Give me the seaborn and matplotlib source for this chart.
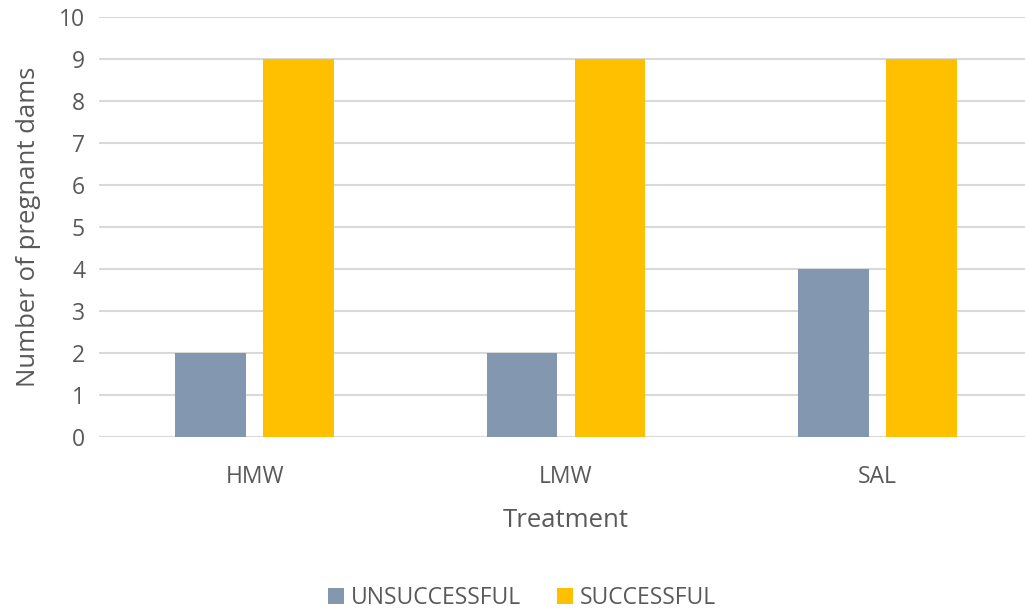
import matplotlib
matplotlib.use("Agg")
import matplotlib.pyplot as plt
import seaborn as sns
import pandas as pd

treatments = ["HMW", "LMW", "SAL"]
unsuccessful = [2, 2, 4]
successful = [9, 9, 9]
outcomes = ["UNSUCCESSFUL", "SUCCESSFUL"]
y_ticks = list(range(0, 11))

df = pd.DataFrame({
    "Treatment": treatments * 2,
    "Outcome": [outcomes[0]] * 3 + [outcomes[1]] * 3,
    "Count": unsuccessful + successful,
})

sns.set_theme(style="white")
plt.rcParams["font.family"] = ["Open Sans", "DejaVu Sans"]
text_color = "#595959"

fig = plt.figure(figsize=(10.25, 6.14), dpi=100)
ax = fig.add_axes([99 / 1025, 1 - 437 / 614, 934 / 1025, 420 / 614])

sns.barplot(
    data=df, x="Treatment", y="Count", hue="Outcome",
    order=treatments, hue_order=outcomes,
    palette=["#8497B0", "#FFC000"],
    width=0.566, gap=0.2, ax=ax, saturation=1, legend=True,
    linewidth=0,
)

ax.set_ylim(0, 10)
ax.set_yticks(y_ticks)
ax.yaxis.grid(True, color="#d9d9d9", linewidth=1.5)
ax.set_axisbelow(True)
for s in ax.spines.values():
    s.set_visible(False)
ax.tick_params(axis="both", length=0, colors=text_color, labelsize=16.5)
ax.tick_params(axis="x", pad=20)
ax.tick_params(axis="y", pad=10)
ax.set_xlabel("Treatment", fontsize=18.5, color=text_color, labelpad=14)
ax.set_ylabel("Number of pregnant dams", fontsize=18.5, color=text_color, labelpad=13)

handles, labels = ax.get_legend_handles_labels()
ax.legend_.remove()
fig.legend(handles, labels, loc="center", bbox_to_anchor=(522 / 1025, 1 - 598 / 614),
           ncol=2, frameon=False, fontsize=16.5, labelcolor=text_color,
           handlelength=0.7, handleheight=0.7, handletextpad=0.3, columnspacing=1.6)

fig.savefig("out.png", dpi=100, facecolor="white")
